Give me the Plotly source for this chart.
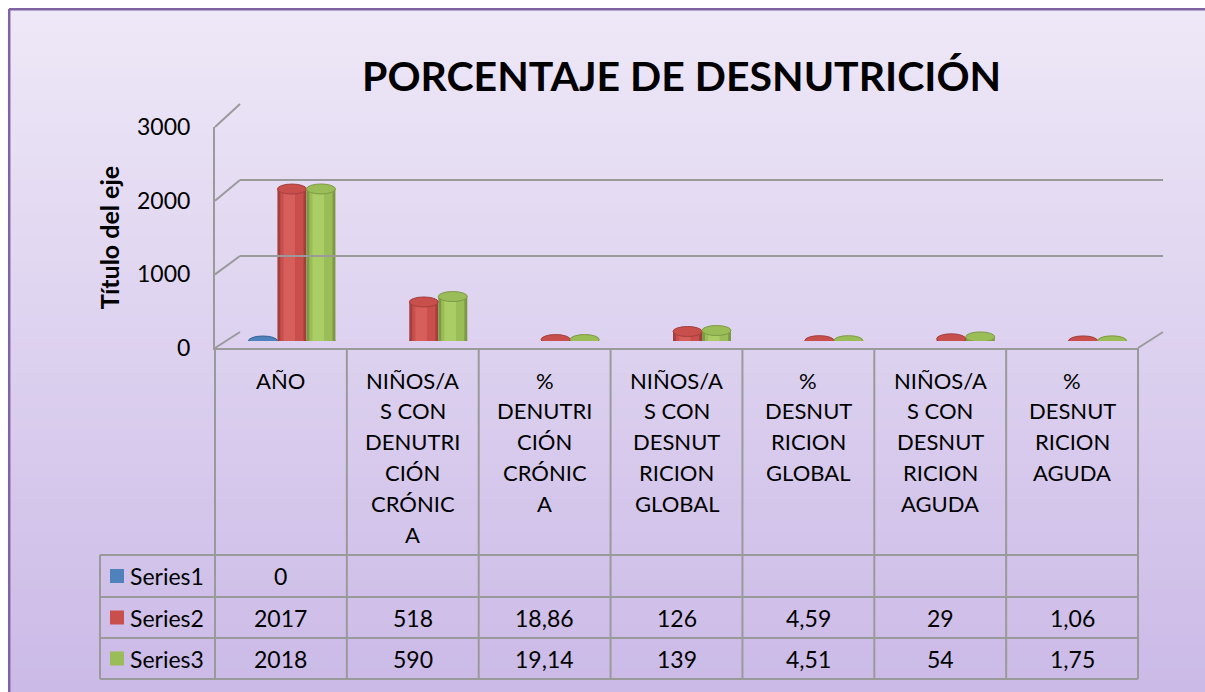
import plotly.graph_objects as go

# data
categories = [
    ["AÑO"],
    ["NIÑOS/A", "S CON", "DENUTRI", "CIÓN", "CRÓNIC", "A"],
    ["%", "DENUTRI", "CIÓN", "CRÓNIC", "A"],
    ["NIÑOS/A", "S CON", "DESNUT", "RICION", "GLOBAL"],
    ["%", "DESNUT", "RICION", "GLOBAL"],
    ["NIÑOS/A", "S CON", "DESNUT", "RICION", "AGUDA"],
    ["%", "DESNUT", "RICION", "AGUDA"],
]
series_names = ["Series1", "Series2", "Series3"]
series1 = [0, None, None, None, None, None, None]
series2 = [2017, 518, 18.86, 126, 4.59, 29, 1.06]
series3 = [2018, 590, 19.14, 139, 4.51, 54, 1.75]
y_ticks = [0, 1000, 2000, 3000]

W, H = 1205, 692
FONT = "Lato, Carlito, Calibri, sans-serif"
GRID = "#9a9a9a"

# colours: dark edge, body, highlight
palette = [
    ("#3b6697", "#4f81bd", "#6290c8"),
    ("#a3403d", "#c84f4b", "#d65f5b"),
    ("#7d9a43", "#9bbd58", "#aacd66"),
]


def px(x):
    return x / W


def py(y):
    return 1 - y / H


def fmt(v):
    if v is None:
        return ""
    return f"{v:g}".replace(".", ",")


fig = go.Figure()
shapes = []
annotations = []

# background gradient + border
top_c = (238, 232, 247)
bot_c = (203, 186, 231)
n_bands = 60
for i in range(n_bands):
    t = i / (n_bands - 1)
    c = tuple(round(top_c[k] + (bot_c[k] - top_c[k]) * t) for k in range(3))
    y0 = 9 + (H - 9) * i / n_bands
    y1 = 9 + (H - 9) * (i + 1) / n_bands + 1
    shapes.append(dict(type="rect", xref="paper", yref="paper", x0=px(9), x1=1,
                       y0=max(py(y1), 0), y1=py(y0), fillcolor=f"rgb{c}", line_width=0,
                       layer="below"))
shapes.append(dict(type="line", xref="paper", yref="paper", x0=px(9.2), x1=px(9.2),
                   y0=0, y1=py(9), line=dict(color="#8064a2", width=2.5)))
shapes.append(dict(type="line", xref="paper", yref="paper", x0=px(9), x1=1,
                   y0=py(9.2), y1=py(9.2), line=dict(color="#8064a2", width=2.5)))


# 3D frame: left wall diagonals and floor side
def y_front(v):
    return 348 - v / 3000 * 221


def y_back(v):
    return 332 - v / 3000 * 228


for v in y_ticks:
    shapes.append(dict(type="line", xref="paper", yref="paper", x0=px(215), x1=px(240),
                       y0=py(y_front(v)), y1=py(y_back(v)), line=dict(color=GRID, width=2)))
shapes.append(dict(type="line", xref="paper", yref="paper", x0=px(1138), x1=px(1163),
                   y0=py(348), y1=py(332), line=dict(color=GRID, width=2)))

# cylinders
xs = list(range(len(categories)))
bw = 0.22
for k, vals in enumerate([series1, series2, series3]):
    dark, body, light = palette[k]
    c = (k - 1) * bw
    for w, col, shift in [(bw, dark, 0), (bw * 0.8, body, 0), (bw * 0.4, light, -0.02)]:
        fig.add_trace(go.Bar(x=xs, y=vals, width=w, offset=c - w / 2 + shift,
                             marker=dict(color=col, line_width=0), name=series_names[k],
                             showlegend=False, hoverinfo="skip", xaxis="x", yaxis="y"))
    for i, v in enumerate(vals):
        if v is None:
            continue
        shapes.append(dict(type="circle", xref="x", yref="y", xsizemode="pixel", ysizemode="pixel",
                           xanchor=i + c, yanchor=0, x0=-14.5, x1=14.5, y0=-5, y1=5,
                           fillcolor=dark, line_width=0, layer="below"))
        shapes.append(dict(type="circle", xref="x", yref="y", xsizemode="pixel", ysizemode="pixel",
                           xanchor=i + c, yanchor=v, x0=-14.5, x1=14.5, y0=-5, y1=5,
                           fillcolor=body, line=dict(color=dark, width=1), layer="above"))

# empty traces so the wall and front axes get drawn
fig.add_trace(go.Scatter(x=[None], y=[None], xaxis="x2", yaxis="y2", showlegend=False,
                         hoverinfo="skip"))
fig.add_trace(go.Scatter(x=[None], y=[None], xaxis="x3", yaxis="y3", showlegend=False,
                         hoverinfo="skip"))

# data table
col_x = [215 + i * 131.86 for i in range(len(categories) + 1)]
row_y = [555, 597, 638, 679]
for x in col_x:
    shapes.append(dict(type="line", xref="paper", yref="paper", x0=px(x), x1=px(x),
                       y0=py(679), y1=py(348), line=dict(color=GRID, width=2)))
shapes.append(dict(type="line", xref="paper", yref="paper", x0=px(100), x1=px(100),
                   y0=py(679), y1=py(555), line=dict(color=GRID, width=2)))
for y in row_y:
    shapes.append(dict(type="line", xref="paper", yref="paper", x0=px(100), x1=px(col_x[-1]),
                       y0=py(y), y1=py(y), line=dict(color=GRID, width=2)))

for i, lines in enumerate(categories):
    cx = (col_x[i] + col_x[i + 1]) / 2
    for j, ln in enumerate(lines):
        annotations.append(dict(x=px(cx), y=py(380 + j * 30.8), xref="paper", yref="paper",
                                text=ln, showarrow=False, xanchor="center", yanchor="middle",
                                font=dict(size=22, color="black", family=FONT)))

for r, vals in enumerate([series1, series2, series3]):
    cy = (row_y[r] + row_y[r + 1]) / 2
    shapes.append(dict(type="rect", xref="paper", yref="paper", x0=px(110), x1=px(124),
                       y0=py(cy + 7), y1=py(cy - 7), fillcolor=palette[r][1], line_width=0))
    annotations.append(dict(x=px(128), y=py(cy), xref="paper", yref="paper",
                            text=series_names[r], showarrow=False, xanchor="left",
                            yanchor="middle", font=dict(size=23, color="black", family=FONT)))
    for i, v in enumerate(vals):
        cx = (col_x[i] + col_x[i + 1]) / 2
        annotations.append(dict(x=px(cx), y=py(cy), xref="paper", yref="paper",
                                text=fmt(v), showarrow=False, xanchor="center",
                                yanchor="middle", font=dict(size=23, color="black", family=FONT)))

annotations.append(dict(x=px(681), y=py(75), xref="paper", yref="paper",
                        text="<b>PORCENTAJE DE DESNUTRICIÓN</b>", showarrow=False,
                        xanchor="center", yanchor="middle",
                        font=dict(size=41, color="black", family=FONT)))

fig.update_layout(
    width=W, height=H,
    margin=dict(l=0, r=0, t=0, b=0, pad=0, autoexpand=False),
    paper_bgcolor="white", plot_bgcolor="rgba(0,0,0,0)",
    barmode="overlay",
    showlegend=False,
    shapes=shapes, annotations=annotations,
    font=dict(family=FONT),
    # bars (middle depth plane)
    xaxis=dict(domain=[px(226), px(1149)], range=[-0.5, len(categories) - 0.5],
               visible=False, anchor="y", automargin=False),
    yaxis=dict(domain=[py(341), py(115)], range=[0, 3000], visible=False, anchor="x",
               automargin=False),
    # back wall gridlines
    xaxis2=dict(domain=[px(240), px(1163)], range=[0, 1], showgrid=False, zeroline=False,
                showticklabels=False, ticks="", showline=False, anchor="y2", automargin=False),
    yaxis2=dict(domain=[py(332), py(104)], range=[0, 3000], tickvals=y_ticks,
                showgrid=True, gridcolor=GRID, gridwidth=2, showticklabels=False,
                zeroline=False, ticks="", showline=False, anchor="x2", automargin=False),
    # front axis
    xaxis3=dict(domain=[px(215), px(1138)], range=[0, 1], showline=True, linecolor=GRID,
                linewidth=2, showgrid=False, zeroline=False, showticklabels=False,
                ticks="", anchor="y3", automargin=False),
    yaxis3=dict(domain=[py(348), py(127)], range=[0, 3000], tickvals=y_ticks,
                showline=True, linecolor=GRID, linewidth=2, showgrid=False, zeroline=False,
                ticks="", ticklabelstandoff=18, anchor="x3", automargin=False,
                tickfont=dict(size=23, color="black", family=FONT),
                title=dict(text="<b>Título del eje</b>", standoff=10,
                           font=dict(size=25, color="black", family=FONT))),
)

# drop the default page margin so the 1205x692 figure fills the window exactly
fig.write_html("out.html", config={"displayModeBar": False},
               post_script="document.body.style.margin='0';"
                           "document.documentElement.style.overflow='hidden';")
